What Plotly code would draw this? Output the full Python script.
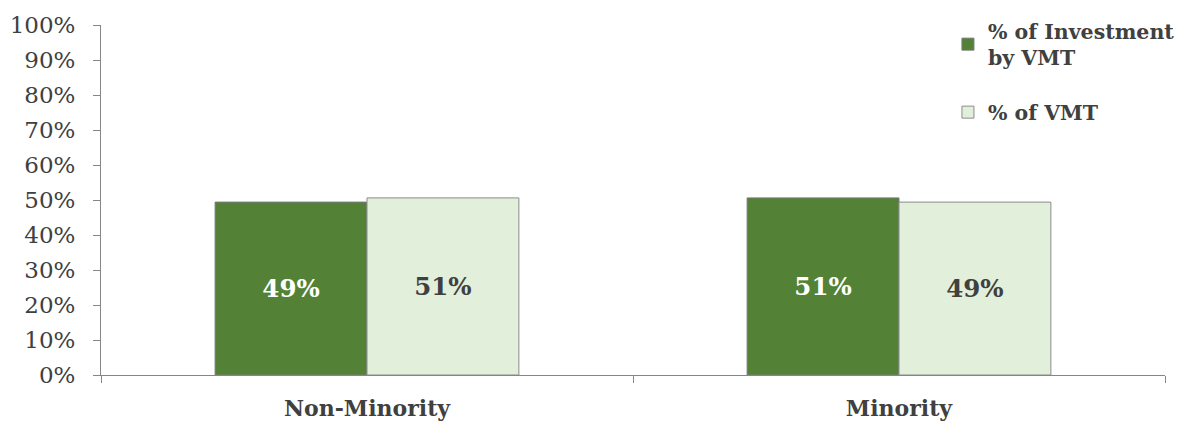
import plotly.graph_objects as go

categories = ["Non-Minority", "Minority"]
investment_pct = [49.4, 50.6]
vmt_pct = [50.6, 49.4]
investment_labels = ["49%", "51%"]
vmt_labels = ["51%", "49%"]
y_ticks = [0, 10, 20, 30, 40, 50, 60, 70, 80, 90, 100]
y_tick_labels = [f"{t}%" for t in y_ticks]

FONT = "DejaVu Serif"
GREEN = "#538135"
LIGHT = "#E2EFDA"
TXT = "#404040"

fig = go.Figure()
fig.add_trace(go.Bar(
    x=categories, y=investment_pct, name="<b>% of Investment</b><br><b>by VMT</b>",
    legendgroup="a",
    marker=dict(color=GREEN, line=dict(color="#7a7a7a", width=1)),
    text=investment_labels, textposition="inside", insidetextanchor="middle",
    textfont=dict(family=FONT, size=24.5, color="white", weight="bold"),
))
fig.add_trace(go.Bar(
    x=categories, y=vmt_pct, name="<b>% of VMT</b>",
    legendgroup="b",
    marker=dict(color=LIGHT, line=dict(color="#8c8c8c", width=1)),
    text=vmt_labels, textposition="inside", insidetextanchor="middle",
    textfont=dict(family=FONT, size=24.5, color=TXT, weight="bold"),
))

fig.update_layout(
    width=1175, height=415,
    margin=dict(l=93, r=3, t=11, b=48),
    paper_bgcolor="white", plot_bgcolor="white",
    barmode="group", bargap=0.429, bargroupgap=0,
    font=dict(family=FONT, color=TXT),
    showlegend=True,
    legend=dict(x=0.796, y=1.04, xanchor="left", yanchor="top",
                font=dict(family=FONT, size=20.5, color=TXT),
                tracegroupgap=25, itemwidth=30, bgcolor="rgba(0,0,0,0)",
                traceorder="grouped"),
    uniformtext=dict(mode=False),
)
fig.update_xaxes(
    automargin=False,
    showline=True, linecolor="#868686", linewidth=1,
    ticks="outside", tickson="boundaries", ticklen=7, tickcolor="#868686",
    tickfont=dict(family=FONT, size=22, color=TXT, weight="bold"),
    ticklabelstandoff=14,
    showgrid=False,
)
fig.update_yaxes(
    automargin=False,
    range=[0, 100], tickvals=y_ticks, ticktext=y_tick_labels,
    showline=True, linecolor="#868686", linewidth=1,
    ticks="outside", ticklen=7, tickcolor="#868686",
    tickfont=dict(family=FONT, size=23, color=TXT),
    ticklabelstandoff=13,
    showgrid=False, zeroline=False,
)

fig.write_html("out.html")
